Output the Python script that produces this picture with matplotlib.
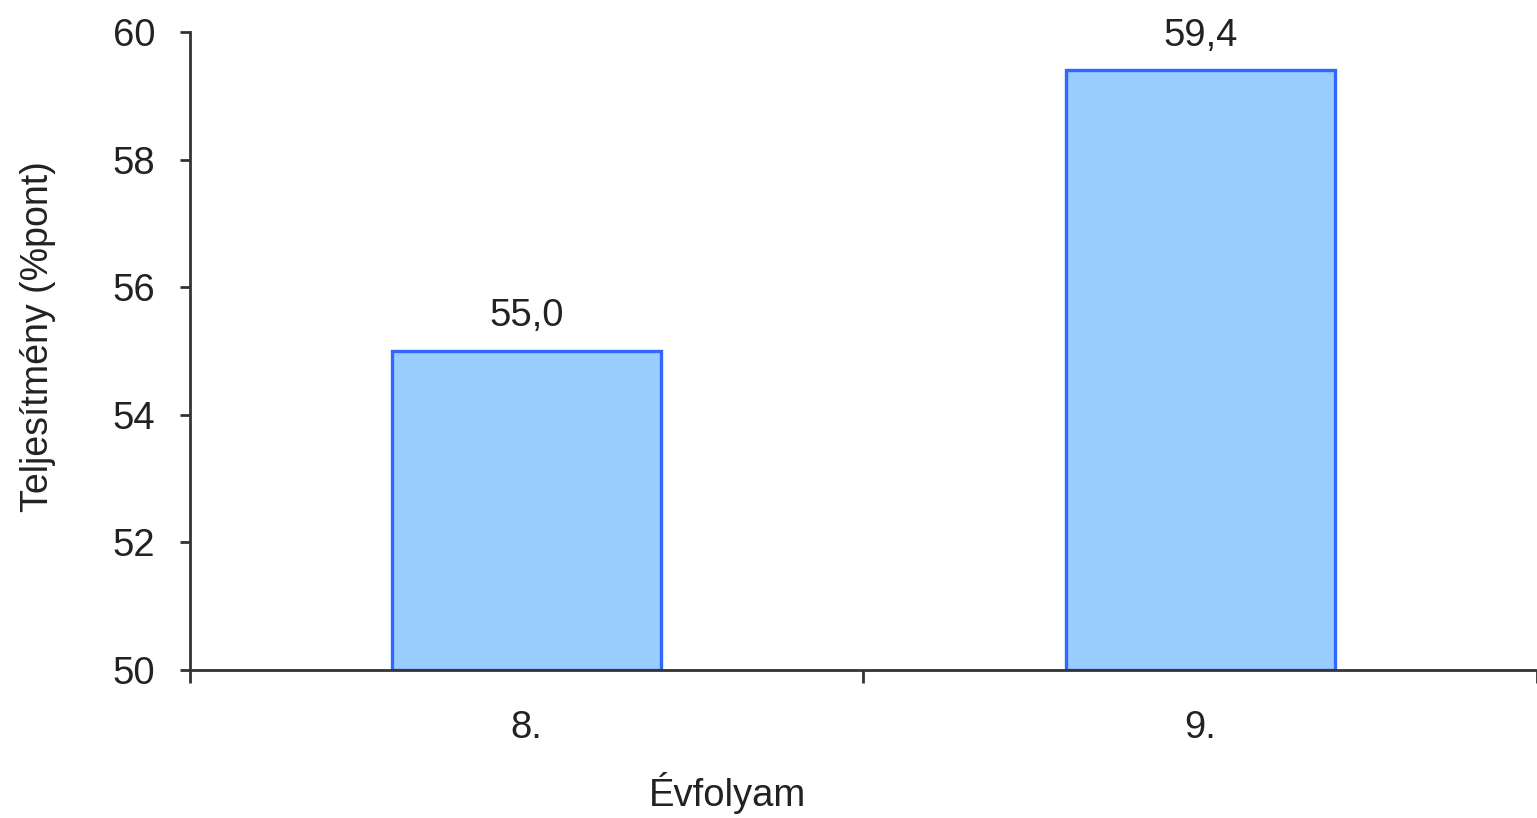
from matplotlib import pyplot as plt
from matplotlib.ticker import FixedLocator
import numpy as np

grades = ["8.", "9."]
scores = [55.0, 59.4]
y_ticks = [50, 52, 54, 56, 58, 60]

plt.rcParams['font.family'] = ['Liberation Sans', 'DejaVu Sans']
FS = 27.5
TXT = '#222222'

fig = plt.figure(figsize=(15.37, 8.18), dpi=100)
ax = fig.add_axes([0.1236, 0.181, 0.8764, 0.78])

x = np.arange(len(grades))
bars = ax.bar(x, [s - 50 for s in scores], bottom=50, width=0.4,
              color='#99CCFF', edgecolor='#3366FF', linewidth=2.4, zorder=2)

# value labels above the bars, decimal comma
for xi, s in zip(x, scores):
    ax.annotate(f"{s:.1f}".replace('.', ','), (xi, s), xytext=(0, 12),
                textcoords='offset points', ha='center', va='bottom',
                fontsize=FS, color=TXT)

ax.set_xlim(-0.5, 1.5)
ax.set_ylim(50, 60)
ax.set_yticks(y_ticks)
ax.set_xticks(x)
ax.set_xticklabels(grades)
ax.xaxis.set_minor_locator(FixedLocator([-0.5, 0.5, 1.5]))

ax.tick_params(axis='x', which='major', length=0, pad=29, labelsize=FS, labelcolor=TXT)
ax.tick_params(axis='x', which='minor', length=9, width=2, direction='out', color='#333333')
ax.tick_params(axis='y', length=7, width=2, pad=18, labelsize=FS, labelcolor=TXT, color='#333333')

for side in ['top', 'right']:
    ax.spines[side].set_visible(False)
for side in ['left', 'bottom']:
    ax.spines[side].set_linewidth(2)
    ax.spines[side].set_color('#333333')
    ax.spines[side].set_zorder(3)

ax.set_ylabel("Teljesítmény (%pont)", fontsize=27, color=TXT)
ax.yaxis.label.set_va('center')
ax.yaxis.set_label_coords(-0.1128, 0.522)

ax.set_xlabel("Évfolyam", fontsize=FS, color=TXT)
ax.xaxis.label.set_va('center')
ax.xaxis.set_label_coords(0.399, -0.193)

fig.savefig("out.png", dpi=100)
